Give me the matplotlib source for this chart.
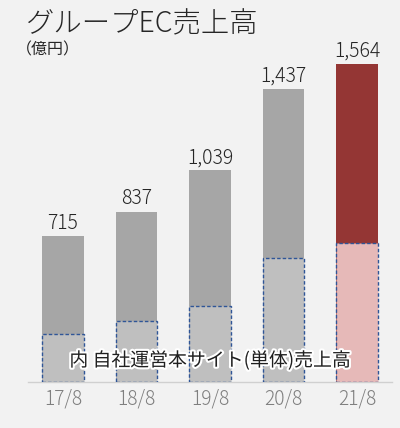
import numpy as np
import matplotlib.pyplot as plt
import matplotlib.patheffects as pe

plt.rcParams['font.family'] = ['Noto Sans CJK JP', 'DejaVu Sans']

years = ['17/8', '18/8', '19/8', '20/8', '21/8']
group_ec = [715, 837, 1039, 1437, 1564]
own_site = [236, 300, 373, 608, 683]

outer_colors = ['#a6a6a6'] * 4 + ['#943634']
inner_colors = ['#bfbfbf'] * 4 + ['#e6b9b8']

fig = plt.figure(figsize=(4.0, 4.28), dpi=100)
fig.patch.set_facecolor('#f2f2f2')
ax = fig.add_axes([0.07, 0.1075, 0.91, 0.799])
ax.set_facecolor('#f2f2f2')

x = np.arange(len(years))
w = 0.57
ax.bar(x, group_ec, width=w, color=outer_colors, edgecolor='none', zorder=2)
ax.bar(x, own_site, width=w, color=inner_colors, edgecolor='#2f5597',
       linestyle=(0, (2.5, 1.5)), linewidth=1.0, zorder=3)

for xi, v in zip(x, group_ec):
    ax.text(xi, v + 12, f'{v:,}', ha='center', va='bottom', fontsize=14,
            fontweight='light', color='#262626')

ax.set_xlim(-0.476, 4.476)
ax.set_ylim(0, 1680)
ax.set_xticks(x)
ax.set_xticklabels(years, fontsize=13.8, color='#7f7f7f', fontweight='light')
ax.tick_params(axis='x', length=0, pad=5)
ax.set_yticks([])
for s in ['top', 'right', 'left']:
    ax.spines[s].set_visible(False)
ax.spines['bottom'].set_color('#d0d0d0')
ax.spines['bottom'].set_linewidth(1.0)

ax.text(2.0, 105, '内 自社運営本サイト(単体)売上高', ha='center', va='center',
        fontsize=13.6, color='#202020', zorder=5,
        path_effects=[pe.withStroke(linewidth=3, foreground='white')])

fig.text(0.063, 0.944, 'グループEC売上高', fontsize=20.4, color='#262626',
         ha='left', va='center', fontweight='light')
fig.text(0.04, 0.884, '（億円）', fontsize=11.5, color='#262626', ha='left', va='center')

fig.savefig('out.png', dpi=100, facecolor=fig.get_facecolor())
